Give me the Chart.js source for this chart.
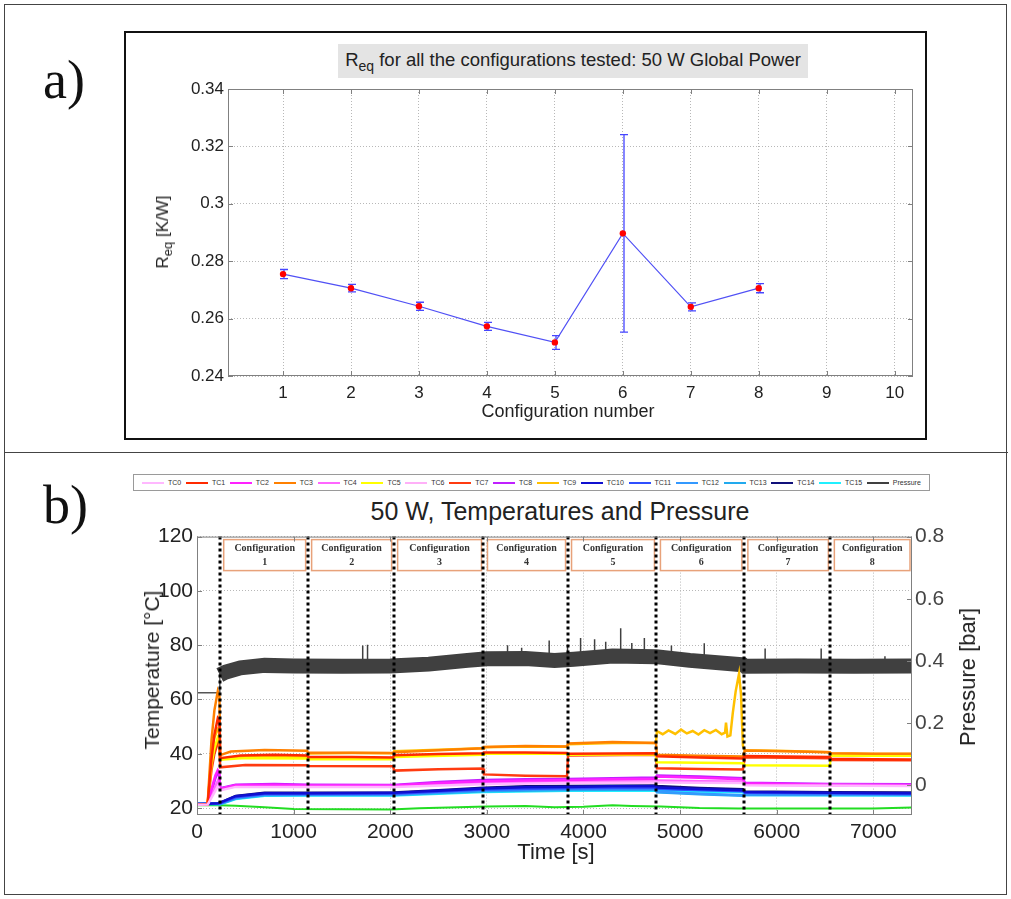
<!DOCTYPE html>
<html>
<head>
<meta charset="utf-8">
<script src="https://cdn.jsdelivr.net/npm/chart.js@4.4.1/dist/chart.umd.min.js"></script>
<style>
  body { margin: 0; background: #fff; font-family: "Liberation Sans", Arial, sans-serif; color: #222; }
  #page { position: relative; width: 1011px; height: 899px; overflow: hidden; }
  .abs { position: absolute; }
  .tag { font-family: "Liberation Serif", "Times New Roman", serif; font-size: 54px; line-height: 54px; color: #111; }
  .rot { transform: translate(-50%, -50%) rotate(-90deg); white-space: nowrap; text-align: center; }
  .ctr { transform: translate(-50%, -50%); white-space: nowrap; }
  #legend { display: flex; align-items: center; justify-content: space-between; padding: 0 8px; box-sizing: border-box;
            border: 1px solid #9a9a9a; font-family: "Liberation Sans Narrow", "Liberation Sans", sans-serif; font-size: 7px; color: #333; }
  #legend span.item { display: flex; align-items: center; }
  #legend span.swatch { display: inline-block; width: 22px; height: 2px; margin-right: 4px; }
</style>
</head>
<body>
<div id="page">
  <!-- frames -->
  <div class="abs" style="left:4px;top:4px;width:1001px;height:889px;border:1.5px solid #444;"></div>
  <div class="abs" style="left:4px;top:452px;width:1004px;border-top:1.5px solid #444;"></div>
  <div class="abs" style="left:124px;top:31px;width:799px;height:405px;border:2px solid #111;"></div>

  <div class="abs tag" style="left:43px;top:53px;">a)</div>
  <div class="abs tag" style="left:43px;top:478px;">b)</div>

  <!-- panel a -->
  <div class="abs" style="left:126px;top:33px;width:798px;height:404px;">
    <canvas id="reqChart" width="798" height="404"></canvas>
  </div>
  <div class="abs" style="left:338px;top:44px;width:470px;height:34px;background:#e4e4e4;text-align:center;font-size:18.5px;line-height:31px;">R<sub style="font-size:14px;vertical-align:-5px;">eq</sub> for all the configurations tested: 50 W Global Power</div>
  <div class="abs rot" style="left:164px;top:232px;font-size:17px;">R<sub style="font-size:13px;vertical-align:-4px;">eq</sub> [K/W]</div>
  <div class="abs ctr" style="left:568px;top:411px;font-size:18px;">Configuration number</div>

  <!-- panel b -->
  <div id="legend" class="abs" style="left:133px;top:474px;width:797px;height:17px;"></div>
  <div class="abs ctr" style="left:560px;top:511px;font-size:25px;">50 W, Temperatures and Pressure</div>
  <div class="abs" style="left:100px;top:520px;width:900px;height:345px;">
    <canvas id="tempChart" width="900" height="345"></canvas>
  </div>
  <div class="abs rot" style="left:152px;top:670px;font-size:21px;">Temperature [°C]</div>
  <div class="abs rot" style="left:968px;top:677px;font-size:22px;">Pressure [bar]</div>
  <div class="abs ctr" style="left:556px;top:852px;font-size:22px;">Time [s]</div>
</div>

<script>
// ---------- panel a: equivalent resistance per configuration ----------
const configNo = [1, 2, 3, 4, 5, 6, 7, 8];
const reqMean = [0.2755, 0.2706, 0.2643, 0.2573, 0.2517, 0.2897, 0.2641, 0.2706];
const reqErr = [0.0016, 0.0013, 0.0014, 0.0014, 0.0024, 0.0344, 0.0014, 0.0016];
const reqXTicks = [1, 2, 3, 4, 5, 6, 7, 8, 9, 10];
const reqYTicks = [0.24, 0.26, 0.28, 0.30, 0.32, 0.34];

// ---------- panel b: temperatures and pressure vs time ----------
const timeTicks = [0, 1000, 2000, 3000, 4000, 5000, 6000, 7000];
const tempTicks = [20, 40, 60, 80, 100, 120];
const pressTicks = [0, 0.2, 0.4, 0.6, 0.8];
const configStart = [235, 1145, 2035, 2965, 3835, 4755, 5660, 6555];
const configLabels = ['1', '2', '3', '4', '5', '6', '7', '8'];

const tcNames = ['TC0', 'TC1', 'TC2', 'TC3', 'TC4', 'TC5', 'TC6', 'TC7', 'TC8', 'TC9', 'TC10', 'TC11', 'TC12', 'TC13', 'TC14', 'TC15'];
const tcColors = ['#ffb8ff', '#ff2a00', '#ff22ff', '#ff8000', '#ff66ff', '#ffff00', '#ffb0f8', '#ff3b10',
                  '#c020ff', '#ffc000', '#1010d0', '#2f4fff', '#3399ff', '#22aaee', '#10107a', '#20f0ff'];

const tc0 = [[0,21.2],[110,21.3],[215,28],[240,26.5],[400,27.8],[1145,27.8],[2035,27.8],[2965,28.8],[3835,29.2],[4750,29.4],[5650,29.2],[5670,28.4],[7400,28.1]];
const tc1 = [[0,21.2],[110,21.4],[150,38],[180,47],[215,53],[232,52],[240,38.4],[450,39.4],[800,39.6],[1140,39.4],[1150,38.8],[1600,38.8],[2030,38.6],[2040,39.5],[2500,39.9],[2960,40.2],[2970,40.5],[3400,40.5],[3830,40.3],[3840,40],[4300,40.1],[4750,40.2],[4760,39.1],[5200,38.6],[5650,38.3],[5670,39.2],[6100,39.0],[6550,38.8],[6560,38.2],[7000,38.0],[7400,37.9]];
const tc2 = [[0,21.2],[110,21.3],[150,27],[190,32],[215,34],[232,33],[240,27],[400,28.4],[800,28.6],[1145,28.3],[2035,28.3],[2500,29.2],[2965,29.9],[3400,30.2],[3835,30.3],[4300,30.6],[4750,30.8],[4760,31.6],[5200,31.2],[5650,30.6],[5670,29.1],[6555,28.6],[7400,28.5]];
const tc3 = [[0,21.2],[110,21.4],[150,45],[180,56],[215,63],[232,61],[240,39.5],[350,40.8],[700,41.4],[1140,41.1],[1150,40.4],[1600,40.4],[2030,40.3],[2040,40.6],[2500,41.3],[2960,42.0],[2970,42.5],[3400,42.9],[3830,42.7],[3840,43.8],[4300,44.3],[4750,44.0],[4760,39.6],[5200,39.3],[5650,39.0],[5670,41.2],[6100,40.9],[6550,40.6],[6560,40.2],[7000,40.0],[7400,40.0]];
const tc4 = [[0,21.2],[110,21.3],[150,25],[215,30],[240,27],[400,28],[1145,28],[2035,28],[2965,29.2],[3835,29.6],[4750,29.8],[4760,30.2],[5650,29.6],[5670,28.6],[6555,28.3],[7400,28.3]];
const tc5 = [[0,21.2],[110,21.4],[150,36],[180,42],[215,46],[232,45],[240,37.8],[500,38.4],[1140,38.3],[1150,38.0],[2030,38.0],[2040,38.8],[2960,39.6],[2970,40.1],[3830,40.0],[3840,39.6],[4750,39.8],[4760,36.9],[5650,36.5],[5670,35.8],[6550,35.6],[6560,39.4],[7400,39.3]];
const tc6 = [[0,21.2],[110,21.3],[215,29],[240,27],[400,28.2],[1145,28.1],[2035,28.2],[2965,29.4],[3835,29.8],[4750,30],[5650,29.8],[5670,28.7],[7400,28.4]];
const tc7 = [[0,21.2],[110,21.4],[150,34],[180,40],[215,44],[232,43],[240,35],[500,35.9],[1140,35.8],[1150,35.5],[2030,35.4],[2040,33.8],[2500,34.3],[2960,34.6],[2970,32.4],[3400,31.9],[3830,31.7],[3840,39.4],[4750,39.6],[4760,34.7],[5200,34.4],[5650,34.2],[5670,38.7],[6550,38.4],[6560,37.7],[7400,37.6]];
const tc8 = [[0,21.2],[110,21.3],[150,26],[190,31],[215,33],[232,32],[240,27.3],[400,28.6],[800,28.9],[1145,28.6],[2035,28.5],[2500,29.6],[2965,30.3],[3400,30.6],[3835,30.7],[4300,31],[4750,31.3],[4760,32],[5200,31.6],[5650,31],[5670,29.3],[6555,28.9],[7400,28.8]];
const tc9 = [[0,21.2],[110,21.4],[150,40],[180,46],[215,49],[232,48],[240,38],[400,38.8],[800,38.9],[1140,38.7],[1150,40.1],[1600,40.3],[2030,40.2],[2040,40.9],[2500,41.5],[2960,42.0],[2970,42.4],[3400,42.7],[3830,42.6],[3840,43.5],[4300,44],[4750,44],[4760,48.3],[4820,47.2],[4880,48.6],[4950,47.3],[5010,48.9],[5070,47.5],[5130,48.4],[5190,47.1],[5250,48.7],[5310,47.6],[5370,48.8],[5430,47.2],[5465,47.8],[5475,51.5],[5490,46.4],[5520,46.8],[5545,55],[5575,63],[5610,69.5],[5630,62],[5650,43],[5670,41.3],[6100,41],[6550,40.6],[6560,40.1],[7000,39.9],[7400,39.9]];
const tc10 = [[0,21.5],[110,21.6],[215,21.8],[240,22],[400,24.4],[700,25.5],[1145,25.5],[2035,25.6],[2500,26.4],[2965,27.2],[3400,27.7],[3835,27.8],[4300,28],[4750,28],[4760,27.6],[5200,27.0],[5650,26.6],[5670,25.9],[6555,25.6],[7400,25.5]];
const tc11 = [[0,21.5],[110,21.6],[215,21.7],[240,21.8],[400,24.0],[700,25.2],[1145,25.2],[2035,25.3],[2965,26.8],[3835,27.3],[4750,27.5],[4760,27],[5650,26.2],[5670,25.6],[7400,25.2]];
const tc12 = [[0,21.5],[110,21.6],[215,21.6],[240,21.6],[400,23.7],[700,24.9],[1145,25],[2035,25],[2965,26.5],[3835,27],[4750,27.1],[4760,26],[5200,25.3],[5650,24.7],[5670,25.1],[7400,25.0]];
const tc13 = [[0,21.5],[110,21.6],[215,21.5],[240,21.5],[400,23.5],[700,24.7],[1145,24.8],[2035,24.8],[2965,26.2],[3835,26.7],[4750,26.8],[4760,25.8],[5200,25.1],[5650,24.5],[5670,24.9],[7400,24.8]];
const tc14 = [[0,21.5],[110,21.6],[215,21.8],[240,22],[400,24.5],[700,25.6],[1145,25.6],[2035,25.7],[2500,26.6],[2965,27.5],[3400,28],[3835,28.1],[4300,28.2],[4750,28.3],[4760,28.1],[5200,27.4],[5650,26.9],[5670,26.1],[6555,25.8],[7400,25.7]];
const tc15 = [[0,21.5],[110,21.6],[215,21.4],[240,21.4],[400,23.3],[700,24.5],[1145,24.6],[2035,24.6],[2965,25.9],[3835,26.4],[4750,26.5],[4760,26.3],[5650,25.8],[5670,24.8],[7400,24.6]];
const tcSeries = [tc0, tc1, tc2, tc3, tc4, tc5, tc6, tc7, tc8, tc9, tc10, tc11, tc12, tc13, tc14, tc15];

// ambient thermocouple (green trace, not in the legend)
const ambient = [[0,21],[230,21],[400,20.9],[700,20.3],[1000,19.7],[1500,19.6],[2000,19.5],[2300,19.9],[2700,20.3],[3000,20.6],[3400,20.8],[3700,20.3],[4000,20.5],[4300,21],[4500,20.8],[4800,20.6],[5200,20.0],[5600,19.8],[6000,19.8],[6500,19.8],[7000,19.8],[7400,20.2]];

// pressure: idle level before start, then the running band and its isolated peaks [t, from, to]
const pressureIdle = [[0,0.298],[228,0.298],[236,0.36]];
const pressure = [[236,0.355],[300,0.365],[450,0.378],[700,0.386],[1000,0.384],[1500,0.383],[2000,0.384],[2400,0.39],[2800,0.402],[3000,0.407],[3400,0.408],[3700,0.402],[3900,0.406],[4300,0.416],[4750,0.414],[5100,0.402],[5650,0.388],[5670,0.383],[6200,0.384],[6800,0.383],[7400,0.384]];
const pressurePeaks = [[1715,0.40,0.45],[1765,0.40,0.452],[3214,0.42,0.451],[3360,0.42,0.443],[3645,0.42,0.466],[3835,0.42,0.452],[3970,0.42,0.474],[4115,0.425,0.47],[4230,0.425,0.462],[4385,0.43,0.505],[4500,0.43,0.458],[4630,0.43,0.474],[4910,0.42,0.45],[5250,0.41,0.457],[5880,0.40,0.44],[6460,0.40,0.44],[7120,0.40,0.415]];

const trim2 = v => String(+v.toFixed(2));
const plain = v => String(v);

// frame round the plot area plus MATLAB-style inward tick marks
const axesBox = {
  id: 'axesBox',
  afterDraw(chart) {
    const { ctx, chartArea: a, scales } = chart;
    const len = 5;
    ctx.save();
    ctx.strokeStyle = '#808080';
    ctx.lineWidth = 1;
    ctx.strokeRect(a.left + 0.5, a.top + 0.5, a.width - 1, a.height - 1);
    ctx.beginPath();
    scales.x.ticks.forEach(t => {
      const p = Math.round(scales.x.getPixelForValue(t.value)) + 0.5;
      ctx.moveTo(p, a.bottom); ctx.lineTo(p, a.bottom - len);
      ctx.moveTo(p, a.top); ctx.lineTo(p, a.top + len);
    });
    scales.y.ticks.forEach(t => {
      const p = Math.round(scales.y.getPixelForValue(t.value)) + 0.5;
      ctx.moveTo(a.left, p); ctx.lineTo(a.left + len, p);
      if (!scales.y1) { ctx.moveTo(a.right, p); ctx.lineTo(a.right - len, p); }
    });
    if (scales.y1) {
      scales.y1.ticks.forEach(t => {
        const p = Math.round(scales.y1.getPixelForValue(t.value)) + 0.5;
        ctx.moveTo(a.right, p); ctx.lineTo(a.right - len, p);
      });
    }
    ctx.stroke();
    ctx.restore();
  }
};

// vertical error bars with caps
const errorBars = {
  id: 'errorBars',
  beforeDatasetsDraw(chart) {
    const { ctx, scales: { x, y } } = chart;
    ctx.save();
    ctx.strokeStyle = '#4646ff';
    ctx.lineWidth = 1.3;
    ctx.beginPath();
    configNo.forEach((c, i) => {
      const px = Math.round(x.getPixelForValue(c)) + 1;
      const top = y.getPixelForValue(reqMean[i] + reqErr[i]);
      const bot = y.getPixelForValue(reqMean[i] - reqErr[i]);
      ctx.moveTo(px, top); ctx.lineTo(px, bot);
      ctx.moveTo(px - 4, top); ctx.lineTo(px + 4, top);
      ctx.moveTo(px - 4, bot); ctx.lineTo(px + 4, bot);
    });
    ctx.stroke();
    ctx.restore();
  }
};

// dotted separators between configurations and their labelled boxes
const configMarks = {
  id: 'configMarks',
  afterDatasetsDraw(chart) {
    const { ctx, chartArea: a, scales: { x } } = chart;
    ctx.save();
    configStart.forEach((t, i) => {
      const left = x.getPixelForValue(t);
      const right = i + 1 < configStart.length ? x.getPixelForValue(configStart[i + 1]) - 2 : a.right - 2;
      ctx.fillStyle = '#fff';
      ctx.strokeStyle = '#e8a27a';
      ctx.lineWidth = 1.5;
      ctx.fillRect(left + 4, a.top + 3, right - left - 4, 31);
      ctx.strokeRect(left + 4, a.top + 3, right - left - 4, 31);
      ctx.fillStyle = '#333';
      ctx.font = 'bold 10px "Liberation Serif", "Times New Roman", serif';
      ctx.textAlign = 'center';
      ctx.textBaseline = 'middle';
      const cx = (left + 4 + right) / 2;
      ctx.fillText('Configuration', cx, a.top + 12);
      ctx.fillText(configLabels[i], cx, a.top + 26);
    });
    ctx.strokeStyle = '#000';
    ctx.lineWidth = 3;
    ctx.setLineDash([3, 3]);
    ctx.beginPath();
    configStart.forEach(t => {
      const px = Math.round(x.getPixelForValue(t));
      ctx.moveTo(px, a.top); ctx.lineTo(px, a.bottom);
    });
    ctx.stroke();
    ctx.restore();
  }
};

const dottedGrid = { color: '#b8b8b8', lineWidth: 1, drawTicks: false };
const gridBorder = { display: false, dash: [1, 2] };

new Chart(document.getElementById('reqChart'), {
  type: 'scatter',
  data: {
    datasets: [{
      label: 'Req',
      data: configNo.map((c, i) => ({ x: c, y: reqMean[i] })),
      showLine: true,
      borderColor: '#5050f5',
      borderWidth: 1.2,
      pointRadius: 3.2,
      pointBackgroundColor: '#ff0000',
      pointBorderColor: '#ff0000',
      pointBorderWidth: 0
    }]
  },
  options: {
    responsive: false,
    animation: false,
    layout: { padding: { top: 56, right: 11, left: 0, bottom: 0 } },
    plugins: { legend: { display: false }, tooltip: { enabled: false } },
    scales: {
      x: {
        type: 'linear', min: 0.19, max: 10.27,
        afterBuildTicks: s => { s.ticks = reqXTicks.map(v => ({ value: v })); },
        afterFit: s => { s.height = 61; },
        ticks: { font: { size: 17, family: '"Liberation Sans", Arial' }, color: '#222', padding: 7, maxRotation: 0, autoSkip: false, callback: plain },
        grid: dottedGrid, border: gridBorder
      },
      y: {
        min: 0.24, max: 0.34,
        afterBuildTicks: s => { s.ticks = reqYTicks.map(v => ({ value: v })); },
        afterFit: s => { s.width = 102; },
        ticks: { font: { size: 17, family: '"Liberation Sans", Arial' }, color: '#222', padding: 4, callback: trim2 },
        grid: dottedGrid, border: gridBorder
      }
    }
  },
  plugins: [errorBars, axesBox]
});

// legend strip built from the same series names and colours
const legendEl = document.getElementById('legend');
tcNames.concat(['Pressure']).forEach((name, i) => {
  const item = document.createElement('span');
  item.className = 'item';
  const sw = document.createElement('span');
  sw.className = 'swatch';
  sw.style.background = i < tcColors.length ? tcColors[i] : '#404040';
  item.appendChild(sw);
  item.appendChild(document.createTextNode(name));
  legendEl.appendChild(item);
});

const tempDatasets = tcSeries.map((s, i) => ({
  label: tcNames[i], data: s, borderColor: tcColors[i], borderWidth: 2.5, yAxisID: 'y'
}));
tempDatasets.push({ label: 'Ambient', data: ambient, borderColor: '#22dd22', borderWidth: 2, yAxisID: 'y' });
tempDatasets.push({ label: 'Pressure', data: pressure, borderColor: '#404040', borderWidth: 15, yAxisID: 'y1' });
tempDatasets.push({ label: 'Pressure idle', data: pressureIdle, borderColor: '#555', borderWidth: 1.5, yAxisID: 'y1' });
tempDatasets.push({
  label: 'Pressure peaks',
  data: pressurePeaks.flatMap(([t, a, b]) => [{ x: t, y: a }, { x: t, y: b }, { x: t, y: null }]),
  borderColor: '#404040', borderWidth: 1.5, yAxisID: 'y1', spanGaps: false
});

new Chart(document.getElementById('tempChart'), {
  type: 'line',
  data: { datasets: tempDatasets },
  options: {
    responsive: false,
    animation: false,
    layout: { padding: { top: 13, right: 0, left: 0, bottom: 0 } },
    elements: { point: { radius: 0 }, line: { tension: 0 } },
    plugins: { legend: { display: false }, tooltip: { enabled: false } },
    scales: {
      x: {
        type: 'linear', min: 0, max: 7400,
        afterBuildTicks: s => { s.ticks = timeTicks.map(v => ({ value: v })); },
        afterFit: s => { s.height = 50; },
        ticks: { font: { size: 21, family: '"Liberation Sans", Arial' }, color: '#222', padding: 5, maxRotation: 0, autoSkip: false, callback: plain },
        grid: dottedGrid, border: gridBorder
      },
      y: {
        position: 'left', min: 17.45, max: 120,
        afterBuildTicks: s => { s.ticks = tempTicks.map(v => ({ value: v })); },
        afterFit: s => { s.width = 97; },
        ticks: { font: { size: 21, family: '"Liberation Sans", Arial' }, color: '#222', padding: 4, callback: plain },
        grid: dottedGrid, border: gridBorder
      },
      y1: {
        position: 'right', min: -0.095, max: 0.8,
        afterBuildTicks: s => { s.ticks = pressTicks.map(v => ({ value: v })); },
        afterFit: s => { s.width = 88; },
        ticks: { font: { size: 21, family: '"Liberation Sans", Arial' }, color: '#444', padding: 3, callback: trim2 },
        grid: { display: false, drawTicks: false }, border: { display: false }
      }
    }
  },
  plugins: [configMarks, axesBox]
});
</script>
</body>
</html>
